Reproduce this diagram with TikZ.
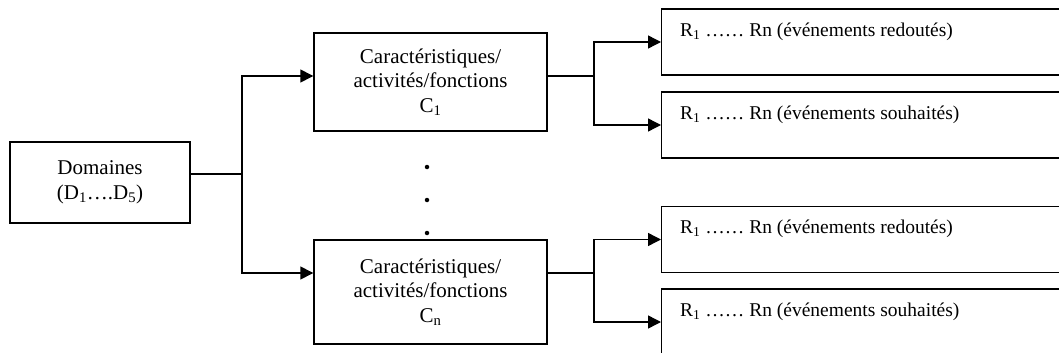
\documentclass[tikz,border=0pt]{standalone}
\usepackage{fontspec}
\setmainfont{Liberation Serif}
\usetikzlibrary{arrows.meta,calc}
\begin{document}
\begin{tikzpicture}[x=1pt,y=-1pt,
  every node/.style={font=\fontsize{21}{24.5}\selectfont},
  box/.style={draw,line width=1.4pt,rectangle,inner sep=0pt,align=center},
  rbox/.style={draw,line width=1.4pt,rectangle,inner sep=0pt,minimum width=440pt,minimum height=66pt,anchor=west},
  lbl/.style={inner sep=0pt,anchor=base west,font=\fontsize{19.5}{23}\selectfont},
  line/.style={line width=1.4pt},
  arr/.style={line width=1.4pt,-{Triangle[length=13pt,width=13pt]}},
  dotmark/.style={circle,fill=black,inner sep=0pt,minimum size=4.5pt}]
\useasboundingbox (0,0) rectangle (1059,353);
\clip (0,0) rectangle (1059,353);
% main boxes
\node[box,minimum width=180pt,minimum height=81pt] (dom) at (100,182.5) {Domaines\\(D\textsubscript{1}….D\textsubscript{5})};
\node[box,minimum width=233pt,minimum height=98pt] (c1) at (430.5,82) {Caractéristiques/\\activités/fonctions\\C\textsubscript{1}};
\node[box,minimum width=233pt,minimum height=104pt] (cn) at (430.5,292) {Caractéristiques/\\activités/fonctions\\C\textsubscript{n}};
% dots
\node[dotmark] (d1) at (427,167) {};
\node[dotmark] (d2) at (427,200) {};
\node[dotmark] (d3) at (427,233) {};
% result boxes
\node[rbox] (r1) at (661,42) {};
\node[rbox] (r2) at (661,125) {};
\node[rbox] (r3) at (661,239.5) {};
\node[rbox] (r4) at (661,322) {};
\node[lbl] (t1) at ($(r1.north west)+(19,28)$) {R\textsubscript{1} …… Rn (événements redoutés)};
\node[lbl] (t2) at ($(r2.north west)+(19,28)$) {R\textsubscript{1} …… Rn (événements souhaités)};
\node[lbl] (t3) at ($(r3.north west)+(19,28)$) {R\textsubscript{1} …… Rn (événements redoutés)};
\node[lbl] (t4) at ($(r4.north west)+(19,28)$) {R\textsubscript{1} …… Rn (événements souhaités)};
% junction coordinates
\coordinate (j0) at (242,174);
\coordinate (a1) at (242,76);
\coordinate (an) at (242,273);
\coordinate (b1) at (594,76);
\coordinate (bn) at (594,273);
% connectors
\draw[line] (dom.east |- j0) -- (j0);
\draw[arr] (j0) |- (c1.west |- a1);
\draw[arr] (j0) |- (cn.west |- an);
\draw[line] (c1.east |- b1) -- (b1);
\draw[arr] (b1) |- (r1.west);
\draw[arr] (b1) |- (r2.west);
\draw[line] (cn.east |- bn) -- (bn);
\draw[arr] (bn) |- (r3.west);
\draw[arr] (bn) |- (r4.west);
\end{tikzpicture}
\end{document}
